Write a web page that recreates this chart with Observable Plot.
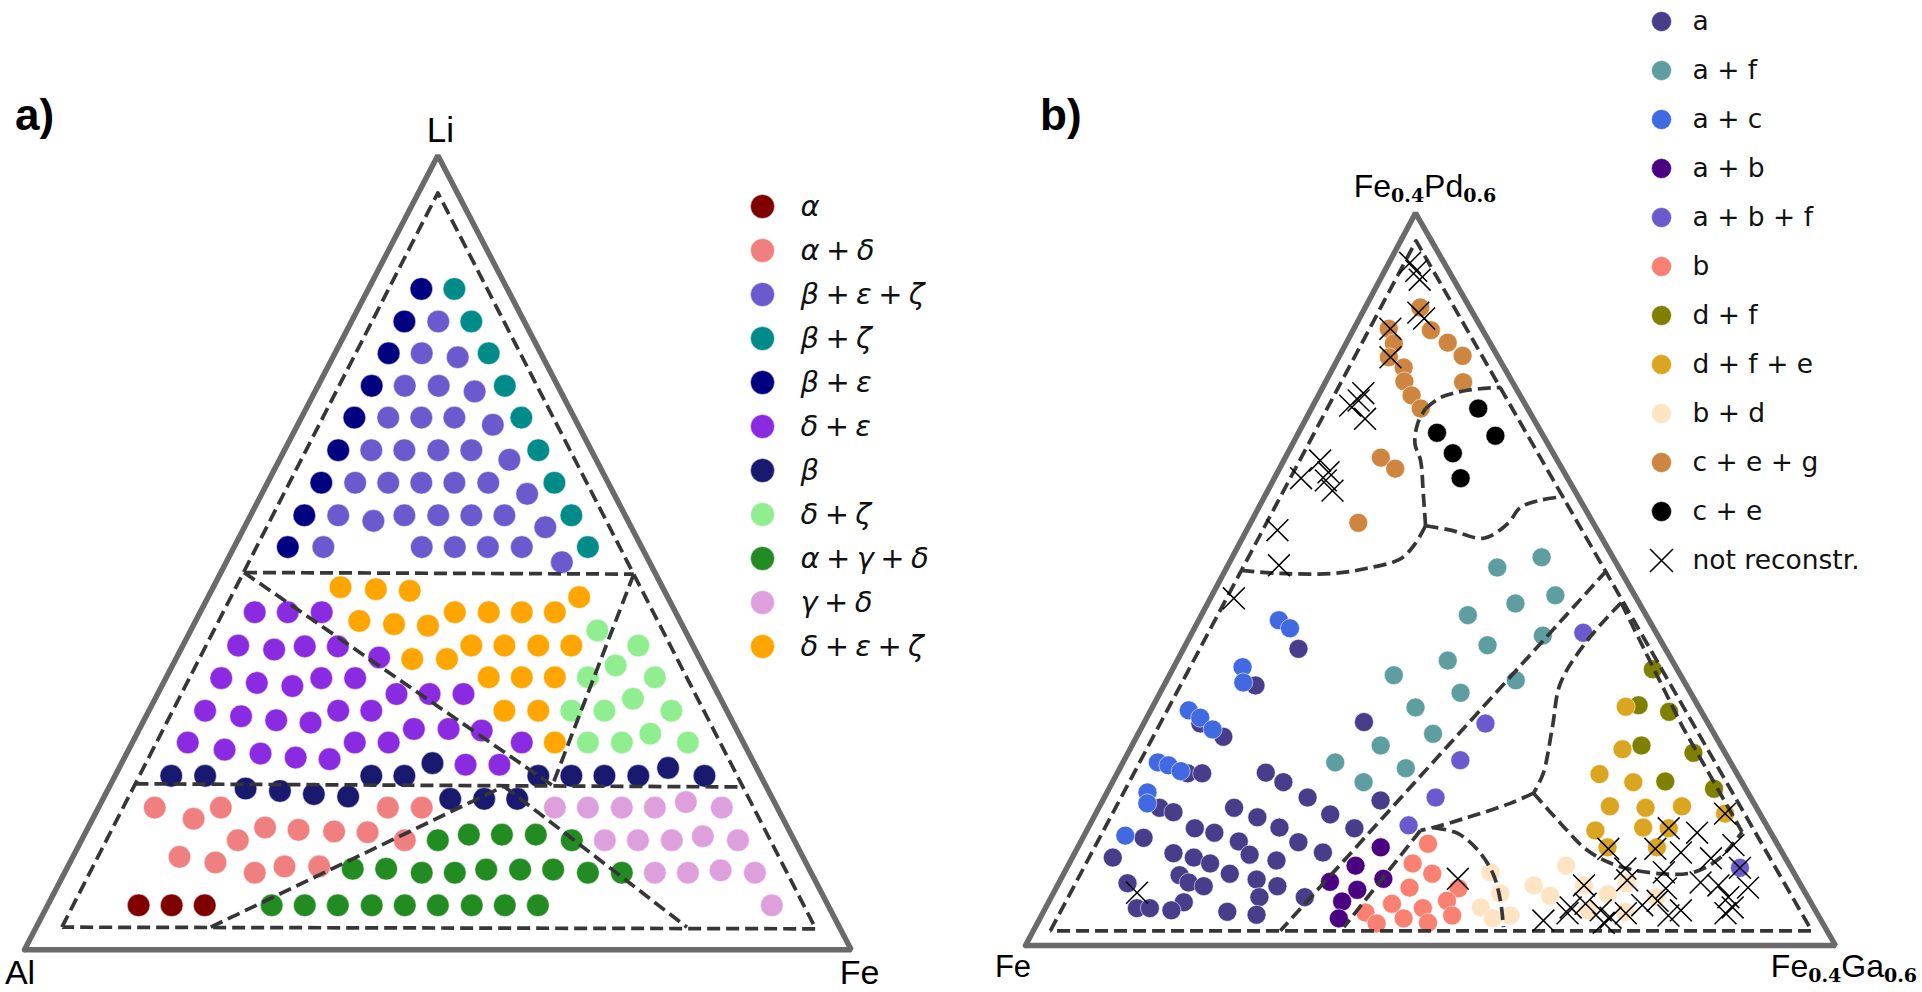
<!DOCTYPE html>
<html><head><meta charset="utf-8">
<script src="https://cdn.jsdelivr.net/npm/d3@7"></script>
<script src="https://cdn.jsdelivr.net/npm/@observablehq/plot@0.6"></script>
<style>
body{margin:0;background:#fff;}
#root{position:relative;width:1922px;height:992px;overflow:hidden;background:#fff;}
.abs{position:absolute;}
</style></head><body><div id="root"></div>
<script>
// ---------- Panel a) : Al–Li–Fe, points as [Li %, Fe %] ----------
const leftCategories = ["α","α + δ","β + ε + ζ","β + ζ","β + ε","δ + ε","β","δ + ζ","α + γ + δ","γ + δ","δ + ε + ζ"];
const leftColors = ["#800000","#f08080","#6a5acd","#008b8b","#000080","#8a2be2","#191970","#90ee90","#228b22","#dda0dd","#ffa500"];

const phAlpha = [[5.6,11.0],[5.6,15.0],[5.6,19.0]];
const phAlphaDelta = [[17.9,6.8],[17.9,14.8],[17.9,35.0],[17.9,39.1],[16.5,12.2],[13.8,18.9],[13.8,39.1],[15.4,21.4],[15.1,25.6],[14.9,30.0],[14.8,34.1],[11.7,12.9],[11.0,17.6],[9.7,23.0],[10.5,26.2],[10.5,30.4]];
const phBetaEpsZeta = [[79.1,10.5],[75.1,10.5],[74.6,15.1],[71.0,10.5],[71.0,14.6],[70.3,19.3],[67.0,10.5],[67.0,14.5],[67.0,18.5],[66.1,23.6],[62.9,10.5],[62.9,14.5],[62.9,18.6],[62.9,22.6],[61.7,27.8],[58.8,10.6],[58.8,14.6],[58.8,18.6],[58.8,22.6],[58.8,26.7],[57.4,32.1],[54.7,10.6],[54.0,15.2],[54.7,18.6],[54.7,22.7],[54.7,26.7],[54.7,30.7],[53.2,36.4],[50.7,10.8],[50.7,22.7],[50.7,26.7],[50.7,30.7],[50.7,34.8],[48.8,40.6]];
const phBetaZeta = [[83.2,10.4],[79.1,14.5],[75.1,18.6],[71.0,22.6],[67.0,26.6],[62.9,30.7],[58.8,34.7],[54.7,38.8],[50.7,42.8]];
const phBetaEps = [[83.2,6.4],[79.1,6.4],[75.1,6.5],[71.0,6.5],[67.0,6.4],[62.9,6.5],[58.8,6.5],[54.7,6.5],[50.7,6.5]];
const phDeltaEps = [[42.5,6.6],[42.5,10.6],[42.5,14.7],[38.3,6.7],[37.8,11.3],[38.2,14.8],[38.2,18.8],[36.8,24.5],[34.2,6.7],[33.6,11.3],[33.2,15.8],[34.2,18.8],[34.2,22.9],[32.2,28.9],[32.2,32.9],[32.2,37.0],[30.1,6.8],[29.4,11.5],[28.9,16.0],[28.6,20.3],[30.1,22.9],[30.1,26.9],[27.8,33.2],[27.8,37.4],[27.6,41.5],[26.1,6.7],[25.2,11.6],[24.7,16.2],[24.2,20.7],[24.0,24.9],[26.1,26.9],[26.1,31.0],[26.1,47.1],[23.3,41.7],[23.3,45.8]];
const phBeta = [[21.9,6.8],[21.9,10.9],[21.9,31.0],[21.9,35.0],[21.9,51.2],[21.9,55.2],[21.9,59.2],[21.9,63.3],[21.9,71.3],[23.5,37.6],[22.9,66.4],[20.3,16.6],[20.0,20.9],[19.6,25.2],[19.3,29.5],[19.0,42.0],[19.0,46.1],[19.0,50.1]];
const phDeltaZeta = [[40.2,49.2],[38.3,55.1],[35.8,53.6],[34.3,51.0],[34.3,59.1],[31.6,57.8],[30.1,51.1],[30.1,55.1],[30.1,63.2],[27.2,62.1],[26.1,55.1],[26.1,59.2],[26.1,67.2]];
const phAlphaGammaDelta = [[13.8,43.1],[14.5,46.5],[14.5,50.5],[14.5,54.6],[13.8,59.3],[10.2,34.6],[10.2,38.65],[9.7,43.2],[9.7,47.2],[10.1,50.8],[10.1,54.9],[10.1,58.9],[9.7,63.3],[9.7,67.4],[5.6,27.1],[5.6,31.1],[5.6,35.1],[5.6,39.2],[5.6,43.2],[5.6,47.2],[5.6,51.3],[5.6,55.3],[5.6,59.3]];
const phGammaDelta = [[17.9,55.2],[17.9,59.2],[17.9,63.3],[17.9,67.3],[18.6,70.7],[17.9,75.4],[13.8,63.3],[13.8,67.3],[13.8,71.4],[14.3,74.9],[13.8,79.4],[9.7,71.4],[9.7,75.4],[10.0,79.2],[9.7,83.5],[5.6,87.6]];
const phDeltaEpsZeta = [[45.65,15.4],[45.4,19.8],[45.2,24.0],[44.4,44.9],[42.5,30.8],[42.5,34.9],[42.5,38.9],[42.5,42.9],[41.4,19.8],[41.0,24.2],[40.8,28.4],[38.3,34.9],[38.3,38.9],[38.3,43.0],[38.3,47.0],[36.6,28.6],[36.6,32.8],[34.3,39.0],[34.3,43.0],[34.3,47.0],[30.1,43.0],[30.1,47.1],[26.1,51.1]];
const leftSeries = [phAlpha, phAlphaDelta, phBetaEpsZeta, phBetaZeta, phBetaEps, phDeltaEps, phBeta, phDeltaZeta, phAlphaGammaDelta, phGammaDelta, phDeltaEpsZeta];

const leftFrame = [[0,0],[100,0],[0,100],[0,0]];
const leftBoundaries = [
  [[2.85,3.1],[95.3,2.35],[2.64,94.4],[2.85,3.1]],
  [[47.5,2.8],[47.3,50.05]],
  [[20.9,2.97],[20.5,76.75]],
  [[47.5,2.8],[20.7,53.5]],
  [[47.3,50.05],[20.7,53.5]],
  [[2.85,21.1],[20.6,47.7]],
  [[20.6,47.7],[2.85,78.7]]
];

// ---------- Panel b) : Fe – Fe0.4Pd0.6 – Fe0.4Ga0.6, points as [Pd-end %, Ga-end %] ----------
const rightCategories = ["a","a + f","a + c","a + b","a + b + f","b","d + f","d + f + e","b + d","c + e + g","c + e"];
const rightColors = ["#483d8b","#5f9ea0","#4169e1","#4b0082","#6a5acd","#fa8072","#808000","#daa520","#ffe4c4","#cd853f","#000000"];

const phA = [[40.5,14.2],[35.5,11.3],[30.3,7.0],[28.5,10.7],[23.5,8.7],[23.5,10.5],[18.8,7.5],[18.2,9.5],[14.7,7.5],[12.0,5.0],[8.5,8.5],[5.1,11.3],[5.1,12.9],[12.6,12.2],[12.0,15.0],[11.2,17.4],[9.6,14.4],[8.6,16.0],[8.1,18.1],[5.9,16.7],[4.8,15.7],[4.6,22.7],[16.0,13.2],[15.4,15.9],[18.8,16.7],[17.5,20.2],[14.2,19.5],[12.4,21.7],[9.8,20.5],[9.0,24.2],[6.6,25.7],[4.2,26.5],[8.1,27.2],[11.6,25.4],[16.1,23.6],[14.1,26.9],[23.6,18.3],[22.3,21.1],[20.2,25.1],[17.9,29.0],[12.7,30.6],[16.0,32.9],[19.8,34.3],[30.5,27.1],[6.6,31.3]];
const phAF = [[51.6,33.4],[53.0,38.2],[47.8,42.4],[46.7,38.0],[45.1,32.9],[42.3,43.5],[41.0,37.3],[38.9,33.4],[36.2,43.1],[34.5,37.1],[32.5,32.5],[28.9,36.4],[24.2,35.3],[36.9,27.7],[27.3,30.7],[25.0,26.2],[22.3,31.0]];
const phAC = [[44.4,9.9],[43.3,11.8],[38.0,8.5],[35.9,9.6],[32.1,4.7],[31.1,6.6],[29.5,8.9],[25.0,4.3],[24.6,5.8],[23.8,7.7],[20.9,5.0],[19.4,5.7],[15.0,5.1]];
const phAB = [[13.4,37.4],[10.9,35.5],[8.7,33.4],[9.1,39.8],[7.6,37.3],[6.0,36.2],[3.7,36.9]];
const phABF = [[42.7,48.3],[30.3,42.2],[25.3,41.5],[20.2,40.9],[16.4,39.4],[10.6,83.1]];
const phB = [[13.9,43.0],[11.2,42.4],[9.8,45.5],[7.9,43.6],[7.8,49.7],[6.1,49.1],[5.1,46.6],[4.1,50.7],[3.7,44.9],[3.1,48.2],[5.7,42.5],[4.5,39.8],[3.0,41.9]];
const phDF = [[37.7,59.3],[32.8,59.9],[31.9,64.1],[27.3,62.9],[26.3,69.8],[22.4,68.2],[21.4,74.7]];
const phDFE = [[32.6,58.4],[26.8,60.8],[23.4,59.6],[22.3,64.3],[19.0,63.0],[18.8,67.5],[19.0,71.9],[15.7,62.8],[16.1,68.5],[16.0,71.7],[13.4,65.4],[13.4,71.5],[18.0,77.7]];
const phBD = [[10.0,52.6],[7.1,55.2],[5.2,53.7],[3.7,55.9],[4.1,57.9],[8.2,58.8],[6.8,61.5],[10.9,61.5],[8.2,65.0],[4.8,67.1],[7.0,68.5],[8.5,70.1],[4.6,71.8],[6.6,74.7]];
const phCEG = [[84.2,4.3],[82.2,5.9],[80.3,6.2],[78.9,8.7],[77.0,9.7],[75.1,11.5],[73.3,13.5],[66.6,11.8],[65.1,14.3],[57.7,13.3],[87.1,6.8],[84.0,9.6],[82.3,12.5],[80.5,15.2],[76.9,17.0]];
const phCE = [[73.3,20.6],[70.0,17.1],[69.6,24.5],[67.2,20.4],[63.8,23.0]];
const rightSeries = [phA, phAF, phAC, phAB, phABF, phB, phDF, phDFE, phBD, phCEG, phCE];
const notReconstructed = [[93.2,2.6],[92.1,3.9],[90.9,4.9],[86.4,6.9],[85.6,8.0],[84.2,4.5],[80.3,6.4],[74.4,5.3],[75.4,5.4],[73.7,4.6],[71.9,7.3],[63.8,3.3],[66.2,4.5],[64.6,6.3],[63.5,6.5],[62.1,8.0],[56.7,3.8],[51.9,6.3],[47.4,2.9],[7.2,10.3],[9.1,49.0],[18.0,77.7],[16.0,71.7],[15.4,75.5],[13.7,80.8],[13.2,65.6],[13.2,71.4],[12.7,74.8],[11.9,78.9],[10.6,83.1],[10.5,69.0],[10.0,74.0],[8.6,79.2],[8.2,81.6],[7.9,85.4],[8.9,70.0],[7.8,75.3],[6.6,83.6],[5.2,84.8],[4.8,78.6],[5.5,73.5],[6.1,75.1],[4.4,72.0],[4.1,77.4],[4.4,84.3],[4.8,68.7],[3.8,70.4],[8.2,65.0],[5.2,64.8],[5.7,66.4],[3.4,62.3],[4.4,64.8],[3.1,69.9]];

const rightFrame = [[0,0],[100,0],[0,100],[0,0]];
const rightStraight = [
  [[2.0,2.1],[96.2,1.9],[2.0,96.1],[2.0,2.1]],
  [[51.2,47.1],[2.0,30.5]],
  [[15.7,41.2],[2.5,38.1]],
  [[46.8,51.0],[30.0,66.6],[15.5,81.0]]
];
const rightCurves = [
  [[51.2,2.0],[50.8,7.0],[50.8,13.6],[51.5,17.4],[52.8,20.9],[54.9,21.7],[57.3,21.8]],
  [[57.3,21.8],[61.7,19.4],[66.2,16.9],[68.5,15.1],[71.3,14.1],[73.3,14.1]],
  [[73.3,14.1],[74.8,15.2],[75.8,18.1],[76.2,22.0]],
  [[57.3,21.8],[56.7,25.2],[55.6,29.8],[57.6,31.8],[59.8,32.3],[60.8,34.3],[61.3,37.0]],
  [[46.8,51.0],[41.6,49.3],[35.8,48.8],[29.8,50.7],[23.5,52.6],[20.8,52.7]],
  [[20.8,52.7],[19.4,50.5],[17.5,46.2],[16.1,42.6],[15.7,41.2]],
  [[16.1,42.6],[15.3,46.0],[13.0,49.6],[9.8,53.0],[6.1,55.7],[2.5,57.8]],
  [[20.8,52.7],[16.7,58.0],[13.0,63.1],[10.9,67.8],[9.8,73.7],[10.0,77.7],[12.0,80.0],[15.5,81.0]]
];

// ---------- helpers ----------
const LEFT_SHEAR = 0.5, RIGHT_SHEAR = 0.4815;
const tableOf = (series, cats) => series.flatMap((pts, i) => pts.map(([t, r]) => ({cat: cats[i], t, r})));
const leftTable = tableOf(leftSeries, leftCategories);
const rightTable = tableOf(rightSeries, rightCategories);
const DASH = {stroke: "#363636", strokeWidth: 3.7, strokeDasharray: "13,6", strokeLinecap: "butt"};
const SANS = "Liberation Sans, Arial, sans-serif";

function addText(svg, x, y, parts, anchor) {
  const t = d3.select(svg).append("text").attr("x", x).attr("y", y).attr("text-anchor", anchor || "middle").attr("fill", "#000");
  parts.forEach(p => t.append("tspan").attr("font-family", p.f || SANS)
    .attr("font-size", p.s).attr("font-weight", p.w || "normal").attr("dy", p.dy || 0).text(p.text));
  return t;
}
function place(node, left, top) {
  const d = document.createElement("div"); d.className = "abs"; d.style.left = left + "px"; d.style.top = top + "px";
  d.appendChild(node); document.getElementById("root").appendChild(d);
}

// ---------- left panel ----------
const xl = d => d[1] + d[0] * LEFT_SHEAR;
const leftPlot = Plot.plot({
  width: 960, height: 992, marginLeft: 24, marginRight: 109.3, marginTop: 155, marginBottom: 42.7,
  x: {domain: [0, 100], axis: null}, y: {domain: [0, 100], axis: null},
  color: {domain: leftCategories, range: leftColors},
  style: {overflow: "visible", background: "transparent"},
  marks: [
    Plot.line(leftFrame, {x: xl, y: d => d[0], stroke: "#6a6a6a", strokeWidth: 5.5, strokeLinejoin: "miter", strokeLinecap: "round"}),
    Plot.dot(leftTable, {x: d => d.r + d.t * LEFT_SHEAR, y: "t", r: 11.3, fill: "cat", stroke: "white", strokeWidth: 1, strokeOpacity: 0.5}),
    ...leftBoundaries.map(p => Plot.line(p, {x: xl, y: d => d[0], ...DASH}))
  ]
});
{
  const sx = leftPlot.scale("x"), sy = leftPlot.scale("y");
  addText(leftPlot, sx.apply(100 * LEFT_SHEAR) + 3, sy.apply(100) - 13, [{text: "Li", s: 35}]);
  addText(leftPlot, sx.apply(0) - 4, sy.apply(0) + 35, [{text: "Al", s: 34}]);
  addText(leftPlot, sx.apply(100) + 9, sy.apply(0) + 35, [{text: "Fe", s: 34}]);
  addText(leftPlot, 15, 130, [{text: "a)", s: 44, w: "bold"}], "start");
}
place(leftPlot, 0, 0);

// ---------- right panel ----------
const xr = d => d[1] + d[0] * RIGHT_SHEAR;
const rightPlot = Plot.plot({
  width: 962, height: 992, marginLeft: 65, marginRight: 87, marginTop: 212.5, marginBottom: 47,
  x: {domain: [0, 100], axis: null}, y: {domain: [0, 100], axis: null},
  color: {domain: rightCategories, range: rightColors},
  style: {overflow: "visible", background: "transparent"},
  marks: [
    Plot.line(rightFrame, {x: xr, y: d => d[0], stroke: "#6a6a6a", strokeWidth: 5.5, strokeLinejoin: "miter", strokeLinecap: "round"}),
    Plot.dot(rightTable, {x: d => d.r + d.t * RIGHT_SHEAR, y: "t", r: 9.5, fill: "cat", stroke: "white", strokeWidth: 1, strokeOpacity: 0.55}),
    ...rightStraight.map(p => Plot.line(p, {x: xr, y: d => d[0], ...DASH})),
    ...rightCurves.map(p => Plot.line(p, {x: xr, y: d => d[0], curve: "catmull-rom", ...DASH})),
    Plot.dot(notReconstructed, {x: xr, y: d => d[0], symbol: "times", r: 10, stroke: "#000", strokeWidth: 1.5})
  ]
});
{
  const sx = rightPlot.scale("x"), sy = rightPlot.scale("y");
  const SUB = {f: "DejaVu Serif, serif", s: 19, w: "bold"};
  addText(rightPlot, sx.apply(100 * RIGHT_SHEAR) + 10, sy.apply(100) - 15.5, [
    {text: "Fe", s: 32}, {...SUB, text: "0.4", dy: 5}, {text: "Pd", s: 32, dy: -5}, {...SUB, text: "0.6", dy: 5}]);
  addText(rightPlot, sx.apply(0) - 12, sy.apply(0) + 32, [{text: "Fe", s: 31}]);
  addText(rightPlot, sx.apply(100) + 82, sy.apply(0) + 32, [
    {text: "Fe", s: 32}, {...SUB, text: "0.4", dy: 5}, {text: "Ga", s: 32, dy: -5}, {...SUB, text: "0.6", dy: 5}], "end");
  addText(rightPlot, 80, 130, [{text: "b)", s: 44, w: "bold"}], "start");
}
place(rightPlot, 960, 0);

// ---------- legends ----------
const leftLegend = Plot.plot({
  width: 240, height: 500, margin: 0,
  x: {domain: [0, 1], range: [20, 58], axis: null},
  y: {type: "point", domain: leftCategories, range: [21.7, 21.7 + 10 * 44.8], padding: 0, axis: null},
  color: {domain: leftCategories, range: leftColors},
  style: {overflow: "visible", background: "transparent"},
  marks: [
    Plot.dot(leftCategories, {x: 0, y: d => d, r: 12, fill: d => d, stroke: "white", strokeWidth: 1, strokeOpacity: 0.5}),
    Plot.text(leftCategories, {x: 1, y: d => d, text: d => d, textAnchor: "start", fontSize: 29, fontFamily: "DejaVu Sans", fill: "#111"})
  ]
});
d3.select(leftLegend).selectAll("text").each(function () {
  const s = this.textContent, sel = d3.select(this);
  sel.text(null);
  s.split(" ").forEach((tok, i) => {
    const ts = sel.append("tspan").text(tok);
    if (tok === "+") ts.attr("font-style", "normal").attr("dx", "0.22em");
    else { ts.attr("font-style", "italic"); if (i > 0) ts.attr("dx", "0.22em"); }
  });
});
place(leftLegend, 742, 180);

const rightLegendDomain = [...rightCategories, "not reconstr."];
const rightLegend = Plot.plot({
  width: 281, height: 600, margin: 0,
  x: {domain: [0, 1], range: [20, 51], axis: null},
  y: {type: "point", domain: rightLegendDomain, range: [16, 16 + 11 * 49.9], padding: 0, axis: null},
  color: {domain: rightCategories, range: rightColors},
  style: {overflow: "visible", background: "transparent"},
  marks: [
    Plot.dot(rightCategories, {x: 0, y: d => d, r: 10, fill: d => d, stroke: "white", strokeWidth: 1, strokeOpacity: 0.5}),
    Plot.dot(["not reconstr."], {x: 0, y: d => d, r: 10.5, symbol: "times", stroke: "#000", strokeWidth: 1.6}),
    Plot.text(rightLegendDomain, {x: 1, y: d => d, text: d => d, textAnchor: "start", fontSize: 26.5, fontFamily: "DejaVu Sans", fill: "#111"})
  ]
});
place(rightLegend, 1641, 0);
</script></body></html>
